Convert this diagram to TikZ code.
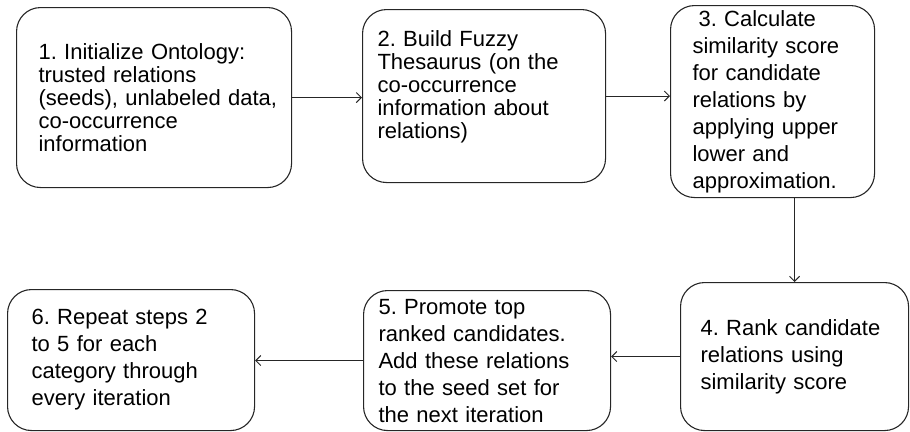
\documentclass[tikz,border=0pt]{standalone}
\usepackage{fontspec}
\setmainfont{Liberation Sans}
\usetikzlibrary{arrows.meta}
\frenchspacing

\tikzset{
  stepbox/.style={draw=black!85, line width=1.1pt, rounded corners=24pt,
    anchor=north west, align=left, inner sep=0pt,
    execute at begin node={\leftskip=#1}},
  stepbox/.default=22pt,
  tightlines/.style={font=\fontsize{22}{23}\selectfont},
  widelines/.style={font=\fontsize{22}{27}\selectfont},
  flow/.style={draw=black!85, line width=1pt, -{Straight Barb[length=5pt,width=10pt]}}
}

\begin{document}
\begin{tikzpicture}[x=1pt,y=-1pt]
  \useasboundingbox (0,0) rectangle (910,431);

  % top row
  \node[stepbox, tightlines, text width=275pt, minimum height=180pt] (init) at (16,7)
    {1. Initialize Ontology:\\ trusted relations\\ (seeds), unlabeled data,\\ co-occurrence\\ information};
  \node[stepbox=15pt, tightlines, text width=243pt, minimum height=173pt] (thes) at (362,9)
    {2. Build Fuzzy\\ Thesaurus (on the\\ co-occurrence\\ information about\\ relations)\\ \mbox{}};
  \node[stepbox, widelines, text width=204pt, minimum height=192pt] (score) at (670,5)
    {\hspace*{6pt}3. Calculate\\ similarity score\\ for candidate\\ relations by\\ applying upper\\ lower and\\ approximation.};

  % bottom row
  \node[stepbox=20pt, widelines, text width=228pt, minimum height=148pt] (rank) at (680,282)
    {4. Rank candidate\\ relations using\\ similarity score};
  \node[stepbox=15pt, widelines, text width=247pt, minimum height=140pt] (promote) at (363,290)
    {5. Promote top\\ ranked candidates.\\ Add these relations\\ to the seed set for\\ the next iteration};
  \node[stepbox=24pt, widelines, text width=247pt, minimum height=141pt] (repeat) at (7,289)
    {6. Repeat steps 2\\ to 5 for each\\ category through\\ every iteration};

  \draw[flow] (init.east) -- (init.east -| thes.west);
  \draw[flow] (thes.east) -- (thes.east -| score.west);
  \draw[flow] (score.south -| rank.north) -- (rank.north);
  \draw[flow] (rank.west) -- (rank.west -| promote.east);
  \draw[flow] (promote.west) -- (promote.west -| repeat.east);
\end{tikzpicture}
\end{document}
